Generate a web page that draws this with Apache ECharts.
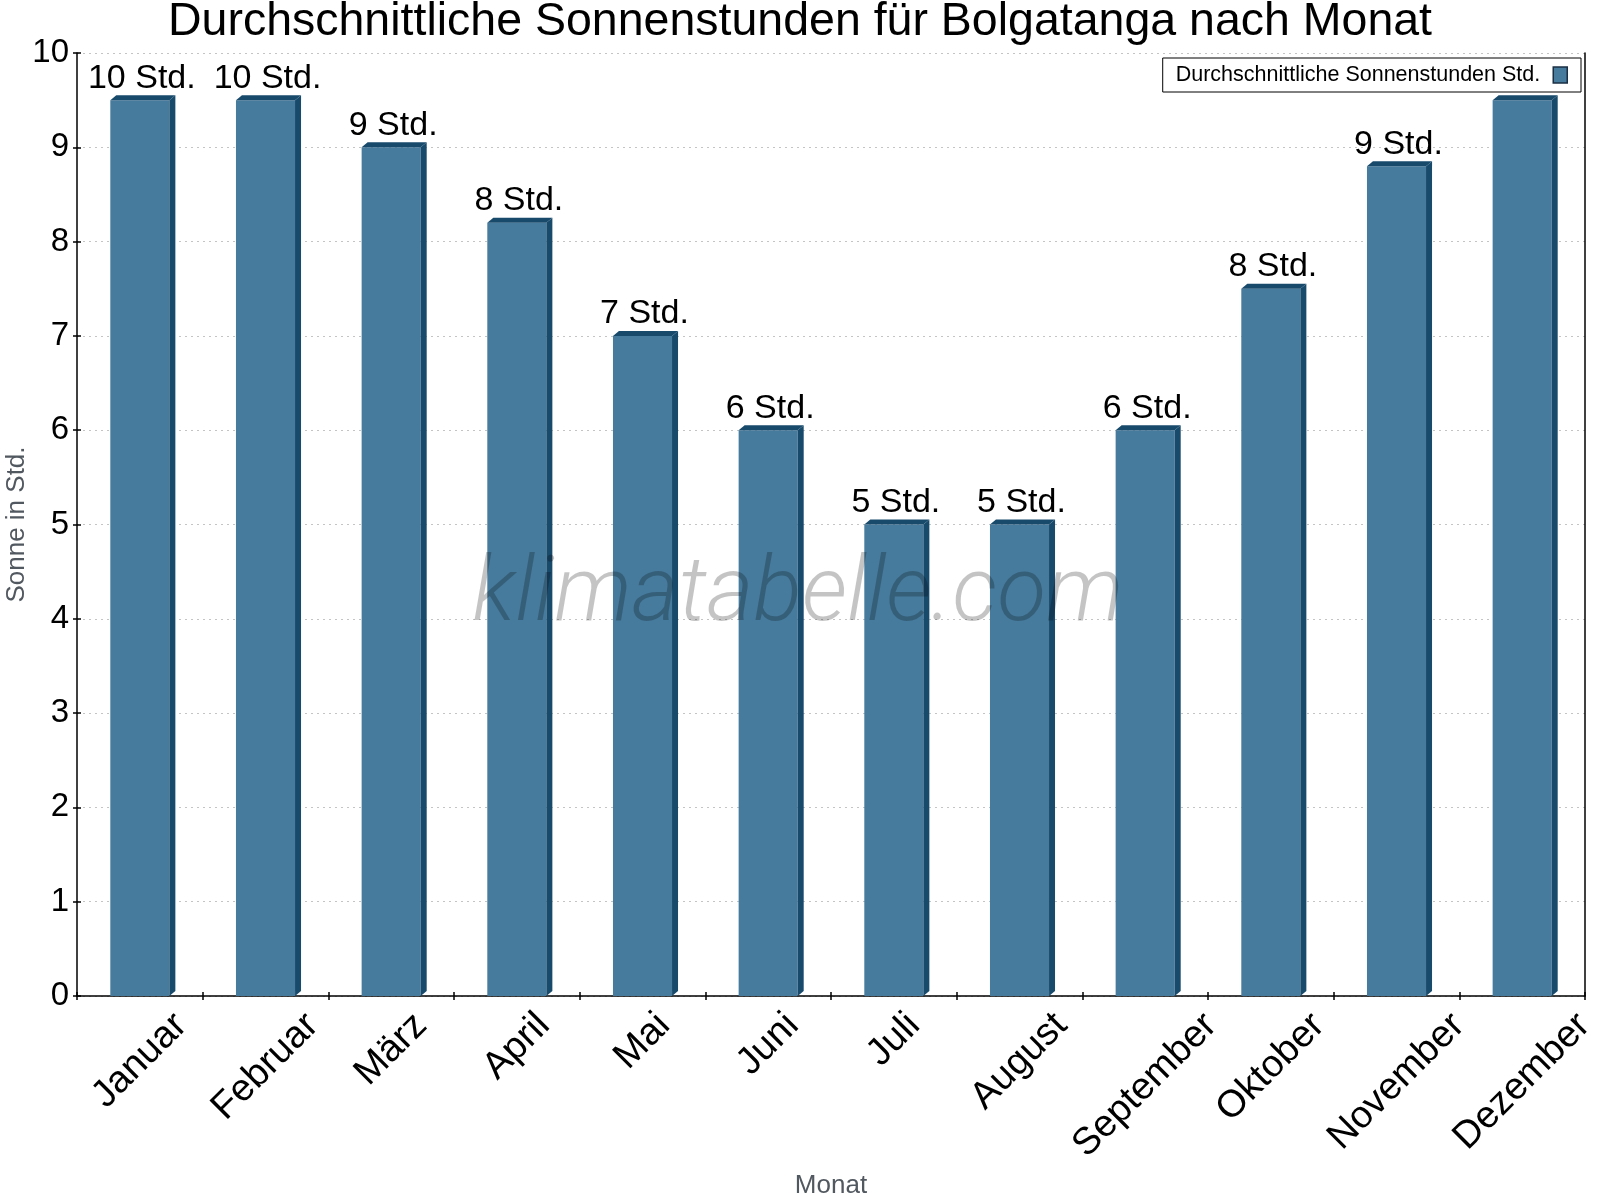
<!DOCTYPE html>
<html>
<head>
<meta charset="utf-8">
<script src="https://cdn.jsdelivr.net/npm/echarts@6/dist/echarts.min.js"></script>
<style>
html,body{margin:0;padding:0;background:#fff;}
#chart{width:1600px;height:1200px;}
</style>
</head>
<body>
<div id="chart"></div>
<script>
// ---- data ----
const months = ['Januar','Februar','März','April','Mai','Juni','Juli','August','September','Oktober','November','Dezember'];
const sunHours = [9.5, 9.5, 9.0, 8.2, 7.0, 6.0, 5.0, 5.0, 6.0, 7.5, 8.8, 9.5];
const seriesName = 'Durchschnittliche Sonnenstunden Std.';
const unit = ' Std.';
const titleText = 'Durchschnittliche Sonnenstunden für Bolgatanga nach Monat';
const yAxisTitle = 'Sonne in Std.';
const xAxisTitle = 'Monat';
const watermark = 'klimatabelle.com';

// ---- style ----
const FONT = '"Liberation Sans", Arial, sans-serif';
const FRONT = '#467b9d';
const DARK = '#184a6c';
const XLAB_SIZE = 38;

const chart = echarts.init(document.getElementById('chart'), null, {renderer: 'canvas'});

// measure label widths to centre rotated labels like the reference
const mctx = document.createElement('canvas').getContext('2d');
mctx.font = XLAB_SIZE + 'px "Liberation Sans"';
const rich = {};
months.forEach((m, i) => {
  const w = mctx.measureText(m).width;
  const q = (w + XLAB_SIZE * 0.72) / 2;
  rich['l' + i] = {fontSize: XLAB_SIZE, fontFamily: FONT, color: '#000', padding: [q, q, 0, 0]};
});

function renderBar(params, api) {
  const i = api.value(0), v = api.value(1);
  const top = api.coord([i, v]);
  const base = api.coord([i, 0]);
  const band = api.size([1, 0])[0];
  const fw = band * 0.47;
  const dx = 6, dy = 5;
  const x0 = top[0] - fw / 2, x1 = top[0] + fw / 2;
  const yT = top[1], yB = base[1];
  return {
    type: 'group',
    children: [
      {type: 'rect', shape: {x: x0, y: yT, width: fw, height: yB - yT}, style: {fill: FRONT}},
      {type: 'polygon', shape: {points: [[x0, yT], [x0 + dx, yT - dy], [x1 + dx, yT - dy], [x1, yT]]}, style: {fill: DARK}},
      {type: 'polygon', shape: {points: [[x1, yT], [x1 + dx, yT - dy], [x1 + dx, yB - dy], [x1, yB]]}, style: {fill: DARK}},
      {type: 'text', x: top[0] + 2, y: yT - dy, style: {
        text: Math.round(v) + unit, font: '34px ' + FONT, fill: '#000',
        align: 'center', verticalAlign: 'bottom'}}
    ]
  };
}

const option = {
  backgroundColor: '#fff',
  animation: false,
  title: {
    text: titleText, left: 'center', top: -1, padding: 0,
    textStyle: {fontFamily: FONT, fontSize: 46.5, fontWeight: 'normal', color: '#000'}
  },
  legend: {
    right: 19, top: 58, align: 'right', icon: 'rect',
    itemWidth: 14, itemHeight: 16, z: 10,
    backgroundColor: '#fff',
    borderColor: '#000', borderWidth: 1, borderRadius: 0,
    padding: [6, 13, 6, 13],
    textStyle: {fontFamily: FONT, fontSize: 21.5, color: '#000', padding: [0, 8, 0, 0]},
    itemStyle: {color: FRONT, borderColor: '#1b2f44', borderWidth: 1.5},
    data: [seriesName]
  },
  grid: {left: 77, right: 15, top: 53, bottom: 204, outerBoundsMode: 'none', containLabel: false},
  xAxis: [{
    type: 'category', data: months, position: 'bottom', boundaryGap: true,
    axisLine: {show: true, lineStyle: {color: '#000', width: 1.5}},
    axisTick: {show: true, inside: false, length: 4, alignWithLabel: false, lineStyle: {color: '#000', width: 1.5}},
    axisLabel: {
      interval: 0, rotate: 45, align: 'center', verticalAlign: 'middle', margin: 14,
      fontFamily: FONT, fontSize: XLAB_SIZE, color: '#000',
      formatter: (val, idx) => '{l' + idx + '|' + val + '}',
      rich: rich
    },
    splitLine: {show: false},
    name: xAxisTitle, nameLocation: 'middle', nameGap: 177, nameMoveOverlap: false,
    nameTextStyle: {fontFamily: FONT, fontSize: 26, color: '#51585f'}
  }, {
    type: 'category', data: months, position: 'bottom', offset: 0, boundaryGap: true,
    axisLine: {show: false},
    axisTick: {show: true, inside: true, length: 4, lineStyle: {color: '#000', width: 1.5}},
    axisLabel: {show: false}, splitLine: {show: false}
  }],
  yAxis: [{
    type: 'value', min: 0, max: 10, interval: 1, position: 'left',
    axisLine: {show: true, lineStyle: {color: '#000', width: 1.5}},
    axisTick: {show: true, inside: false, length: 4, lineStyle: {color: '#000', width: 1.5}},
    axisLabel: {fontFamily: FONT, fontSize: 33, color: '#000', margin: 8},
    splitLine: {show: true, lineStyle: {color: '#c4c4c4', type: [2, 4], width: 1}},
    name: yAxisTitle, nameLocation: 'middle', nameRotate: 90, nameGap: 47, nameMoveOverlap: false,
    nameTextStyle: {fontFamily: FONT, fontSize: 26, color: '#51585f'}
  }, {
    type: 'value', min: 0, max: 10, interval: 1, position: 'left', offset: 0,
    axisLine: {show: false},
    axisTick: {show: true, inside: true, length: 4, lineStyle: {color: '#000', width: 1.5}},
    axisLabel: {show: false}, splitLine: {show: false}
  }, {
    type: 'value', min: 0, max: 10, interval: 1, position: 'right', offset: 0,
    axisLine: {show: true, lineStyle: {color: '#000', width: 1.5}},
    axisTick: {show: false}, axisLabel: {show: false}, splitLine: {show: false}
  }],
  graphic: [{
    type: 'text', x: 798, y: 593, z: 100, silent: true,
    style: {text: watermark, font: 'italic 300 90px "Roboto Light", Roboto', fill: 'rgba(0,0,0,0.23)', align: 'center', verticalAlign: 'middle'}
  }],
  series: [{
    name: seriesName, type: 'custom', xAxisIndex: 0, yAxisIndex: 0, clip: false,
    itemStyle: {color: FRONT, borderColor: '#1b2f44'},
    renderItem: renderBar,
    data: months.map((m, i) => [i, sunHours[i]])
  }]
};
chart.setOption(option);
</script>
</body>
</html>
